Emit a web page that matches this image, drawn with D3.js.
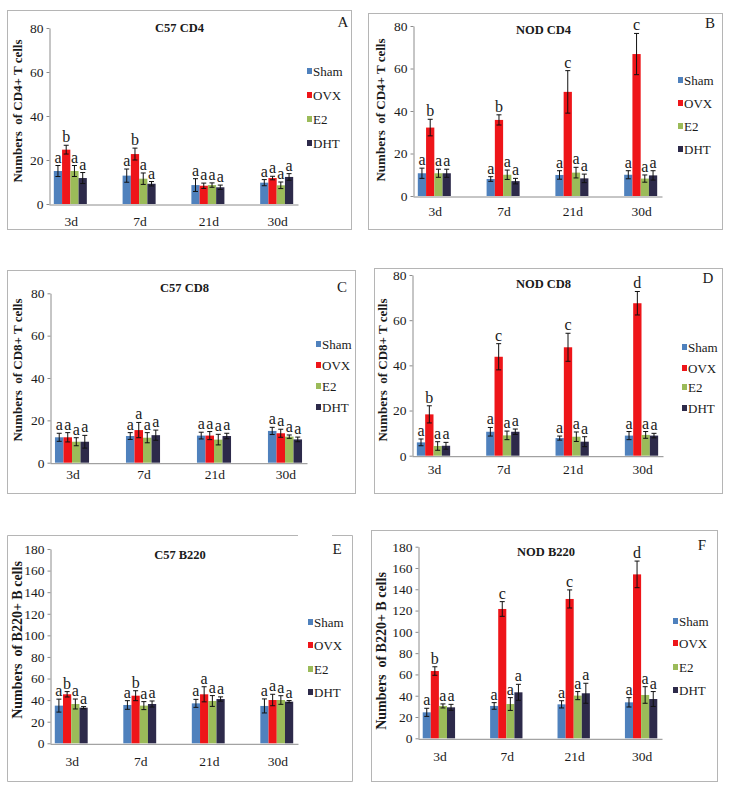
<!DOCTYPE html>
<html><head><meta charset="utf-8">
<script src="https://cdn.jsdelivr.net/npm/d3@7"></script>
<style>
body{margin:0;background:#fff}
svg{display:block}
svg text{font-family:'Liberation Serif','Tinos','Times New Roman','DejaVu Serif',serif !important;fill:#1a1a1a}
</style>
</head><body>
<svg id="c" width="729" height="785" style="font-family:'Liberation Serif','DejaVu Serif',serif"></svg>
<script>
const categories = ["3d","7d","21d","30d"];
const groups = ["Sham","OVX","E2","DHT"];
const groupColors = ["#4F81BD","#EE1519","#9BBB59","#2D2A4A"];
const tCellTicks = [0,20,40,60,80];
const bCellTicks = [0,20,40,60,80,100,120,140,160,180];

// A: C57 CD4
const c57CD4Values = [[15,24.7,15,11.8],[12.9,22.7,11.5,9.2],[8.6,8.3,8.6,7.6],[9.7,11.8,8.5,12.3]];
const c57CD4Errors = [[2.5,2,2.5,2.5],[3,2.7,2.6,1],[2.9,1.2,1,1],[1.4,0.8,1.5,1.5]];
const c57CD4Letters = [["a","b","a","a"],["a","b","a","a"],["a","a","a","a"],["a","a","a","a"]];
// B: NOD CD4
const nodCD4Values = [[10.7,32.2,10.7,10.7],[8,35.8,10,7],[9.9,49,11,8.3],[10,66.8,8.2,9.7]];
const nodCD4Errors = [[2.4,3.9,1.9,1.9],[1.1,2.4,2.2,1.3],[2,10,2.5,2],[1.9,9.7,1.7,2.2]];
const nodCD4Letters = [["a","b","a","a"],["a","b","a","a"],["a","c","a","a"],["a","c","a","a"]];
// C: C57 CD8
const c57CD8Values = [[12,12,9.9,9.9],[12.6,15.4,11.8,13],[12.8,12.8,10.9,12.6],[15,13.9,12.3,11]];
const c57CD8Errors = [[1.9,2.2,1.9,3],[1.6,3.6,2.4,2.4],[1.6,1.9,2.5,1.3],[1.7,1.9,0.8,1.1]];
const c57CD8Letters = [["a","a","a","a"],["a","a","a","a"],["a","a","a","a"],["a","a","a","a"]];
// D: NOD CD8
const nodCD8Values = [[5.9,18.3,4.3,4.4],[10.6,43.8,9,10.6],[7.8,48,8.4,6.2],[8.9,67.5,9.2,8.9]];
const nodCD8Errors = [[1.5,3.8,1.9,1.5],[1.9,5.8,1.9,1.2],[0.9,6.2,2.1,2.2],[1.8,5.2,1.5,1]];
const nodCD8Letters = [["a","b","a","a"],["a","c","a","a"],["a","c","a","a"],["a","d","a","a"]];
// E: C57 B220
const c57B220Values = [[34.9,45.4,36.4,33],[35.5,44.1,34.9,36.4],[37,45.4,39.2,41],[34.6,40.1,40.1,38.6]];
const c57B220Errors = [[6,2.5,4.6,1],[4,4.6,3.7,2.8],[3.7,7,5,2],[6.5,5.3,4,1]];
const c57B220Letters = [["a","b","a","a"],["a","b","a","a"],["a","a","a","a"],["a","a","a","a"]];
// F: NOD B220
const nodB220Values = [[24.4,63.2,30.4,29.1],[30.4,121.5,32.2,43.2],[31.9,130.9,40.1,42.3],[33.8,154,40.7,36.9]];
const nodB220Errors = [[3.8,4,1.9,2.8],[3.1,6.9,6,7.5],[3.4,8.5,3.8,9.4],[4.4,12.5,7.8,7]];
const nodB220Letters = [["a","b","a","a"],["a","c","a","a"],["a","c","a","a"],["a","d","a","a"]];

const panels = [
  {id:"A", title:"C57 CD4", ylab:"Numbers  of CD4+ T cells", values:c57CD4Values, errors:c57CD4Errors, letters:c57CD4Letters, ticks:tCellTicks,
   box:[7,10,352,230], x0:49, x1:298, y0:204, yTop:28, titleY:32, idPos:[343,27], legX:307, legY:[71,95,119,143], ylabX:17, ylabY:111, catY:226, ylabSize:13},
  {id:"B", title:"NOD CD4", ylab:"Numbers  of CD4+ T cells", values:nodCD4Values, errors:nodCD4Errors, letters:nodCD4Letters, ticks:tCellTicks,
   box:[368,13,723,230], x0:413, x1:662, y0:196, yTop:26, titleY:34, idPos:[710,28], legX:678, legY:[80,103,126,149], ylabX:380, ylabY:110, catY:216, ylabSize:13},
  {id:"C", title:"C57 CD8", ylab:"Numbers  of CD8+ T cells", values:c57CD8Values, errors:c57CD8Errors, letters:c57CD8Letters, ticks:tCellTicks,
   box:[7,270,356,494], x0:50, x1:307, y0:462.7, yTop:293.3, titleY:292, idPos:[342,292], legX:316, legY:[344,365,386,407], ylabX:17, ylabY:370, catY:479, ylabSize:13},
  {id:"D", title:"NOD CD8", ylab:"Numbers  of CD8+ T cells", values:nodCD8Values, errors:nodCD8Errors, letters:nodCD8Letters, ticks:tCellTicks,
   box:[374,268,723,494], x0:412, x1:663, y0:455.7, yTop:275, titleY:288, idPos:[708,283], legX:682, legY:[347,368,387,408], ylabX:382, ylabY:370, catY:474, ylabSize:13},
  {id:"E", title:"C57 B220", ylab:"Numbers  of B220+ B cells", values:c57B220Values, errors:c57B220Errors, letters:c57B220Letters, ticks:bCellTicks,
   box:[7,535,353,782], x0:50, x1:298, y0:743.3, yTop:549, titleY:559, idPos:[337,554], legX:308, legY:[622,645,669,692], ylabX:17, ylabY:640, catY:766, ylabSize:14, gap:[298,332]},
  {id:"F", title:"NOD B220", ylab:"Numbers  of B220+ B cells", values:nodB220Values, errors:nodB220Errors, letters:nodB220Letters, ticks:bCellTicks,
   box:[371,530,718,782], x0:418, x1:662, y0:738.3, yTop:546.7, titleY:556, idPos:[702,550], legX:673, legY:[621,643,667,690], ylabX:381, ylabY:651, catY:761, ylabSize:14}
];

const FONT = "'Liberation Serif','Tinos','Times New Roman','DejaVu Serif',serif";
const svg = d3.select("#c");
const color = d3.scaleOrdinal().domain(groups).range(groupColors);

panels.forEach(p => {
  const g = svg.append("g").attr("font-family",FONT);
  const [bx0,by0,bx1,by1] = p.box;
  // frame
  const fr = g.append("g").attr("stroke","#b5b5b5").attr("stroke-width",1).attr("fill","none");
  if (p.gap) {
    fr.append("path").attr("d",`M${p.gap[0]},${by0+0.5}H${bx0+0.5}V${by1-0.5}H${bx1-0.5}V${by0+0.5}H${p.gap[1]}`);
  } else {
    fr.append("rect").attr("x",bx0+0.5).attr("y",by0+0.5).attr("width",bx1-bx0-1).attr("height",by1-by0-1);
  }

  const yMax = p.ticks[p.ticks.length-1];
  const x = d3.scaleBand().domain(categories).range([p.x0,p.x1]).paddingInner(0.52).paddingOuter(0.07);
  const xi = d3.scaleBand().domain(groups).range([0,x.bandwidth()]);
  const y = d3.scaleLinear().domain([0,yMax]).range([p.y0,p.yTop]);

  // y axis
  const ya = g.append("g").attr("transform",`translate(${p.x0+0.5},0)`)
    .call(d3.axisLeft(y).tickValues(p.ticks).tickSize(3).tickPadding(3).tickSizeOuter(0));
  ya.attr("font-family",FONT);
  ya.select(".domain").attr("stroke","#8c8c8c");
  ya.selectAll(".tick line").attr("stroke","#8c8c8c");
  ya.selectAll(".tick text").attr("font-size",13.5).attr("font-family",FONT).attr("fill","#1a1a1a");

  // x axis
  const xa = g.append("g").attr("transform",`translate(0,${p.y0+0.5})`)
    .call(d3.axisBottom(x).tickSize(0).tickSizeOuter(0).tickFormat(()=>""));
  xa.select(".domain").attr("stroke","#8c8c8c");
  g.selectAll(".cat").data(categories).join("text")
    .attr("x",c=>x(c)+x.bandwidth()/2+1).attr("y",p.catY)
    .attr("text-anchor","middle").attr("font-size",13.5).text(c=>c);

  // bars
  const cg = g.selectAll(".grp").data(categories).join("g")
    .attr("transform",c=>`translate(${x(c)},0)`);
  cg.each(function(c,ci){
    const gg = d3.select(this);
    const rows = groups.map((s,si)=>({s, v:p.values[ci][si], e:p.errors[ci][si], l:p.letters[ci][si]}));
    gg.selectAll("rect").data(rows).join("rect")
      .attr("x",d=>xi(d.s)).attr("width",xi.bandwidth())
      .attr("y",d=>y(d.v)).attr("height",d=>y(0)-y(d.v))
      .attr("fill",d=>color(d.s));
    const eb = gg.selectAll(".eb").data(rows).join("g").attr("stroke","#111").attr("stroke-width",1);
    eb.append("line").attr("x1",d=>xi(d.s)+xi.bandwidth()/2).attr("x2",d=>xi(d.s)+xi.bandwidth()/2)
      .attr("y1",d=>y(d.v-d.e)).attr("y2",d=>y(d.v+d.e));
    eb.append("line").attr("x1",d=>xi(d.s)+xi.bandwidth()/2-2.5).attr("x2",d=>xi(d.s)+xi.bandwidth()/2+2.5)
      .attr("y1",d=>y(d.v+d.e)).attr("y2",d=>y(d.v+d.e));
    eb.append("line").attr("x1",d=>xi(d.s)+xi.bandwidth()/2-2.5).attr("x2",d=>xi(d.s)+xi.bandwidth()/2+2.5)
      .attr("y1",d=>y(d.v-d.e)).attr("y2",d=>y(d.v-d.e));
    gg.selectAll(".lt").data(rows).join("text")
      .attr("x",d=>xi(d.s)+xi.bandwidth()/2).attr("y",d=>y(d.v+d.e)-3)
      .attr("text-anchor","middle").attr("font-size",16).text(d=>d.l);
  });

  // title and panel id
  g.append("text").attr("x",(p.x0+p.x1)/2+6).attr("y",p.titleY).attr("text-anchor","middle")
    .attr("font-size",12.5).attr("font-weight","bold").text(p.title);
  g.append("text").attr("x",p.idPos[0]).attr("y",p.idPos[1]).attr("text-anchor","middle")
    .attr("font-size",15).text(p.id);

  // legend
  const lg = g.selectAll(".leg").data(groups).join("g")
    .attr("transform",(s,i)=>`translate(${p.legX},${p.legY[i]})`);
  lg.append("rect").attr("x",0).attr("y",-3).attr("width",5).attr("height",6).attr("fill",s=>color(s));
  lg.append("text").attr("x",6).attr("y",4.5).attr("font-size",13).text(s=>s);

  // y label
  g.append("text").attr("transform",`translate(${p.ylabX},${p.ylabY}) rotate(-90)`)
    .attr("text-anchor","middle").attr("dy","0.35em").attr("font-size",p.ylabSize).attr("font-weight","bold")
    .style("white-space","pre").text(p.ylab);
});
</script>
</body></html>
